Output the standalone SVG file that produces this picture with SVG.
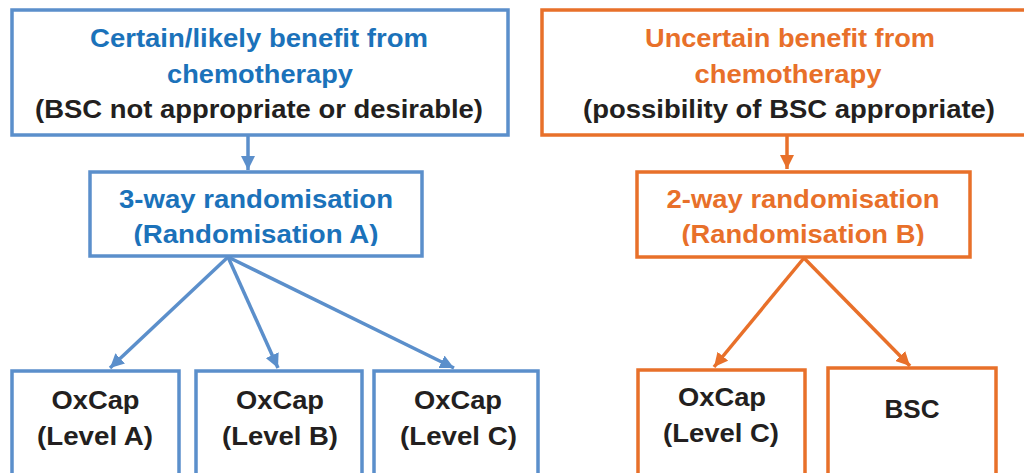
<svg xmlns="http://www.w3.org/2000/svg" width="1024" height="473" viewBox="0 0 1024 473">
<style>
  .bb { fill: #ffffff; stroke: #5B8FCB; stroke-width: 3.5; }
  .ob { fill: #ffffff; stroke: #E8702A; stroke-width: 3.5; }
  text { font-family: "Liberation Sans", Arial, sans-serif; font-weight: bold; text-anchor: middle; font-size: 26.5px; }
  .bt { fill: #1B72BA; }
  .ot { fill: #E8702A; }
  .dk { fill: #231F20; }
  .bl { stroke: #5B8FCB; stroke-width: 3.5; fill: none; }
  .ol { stroke: #E8702A; stroke-width: 3.5; fill: none; }
</style>
<defs>
  <marker id="ab" viewBox="0 0 10 10" refX="10" refY="5" markerWidth="4" markerHeight="4" orient="auto" markerUnits="strokeWidth">
    <path d="M0,0 L10,5 L0,10 z" fill="#5B8FCB"/>
  </marker>
  <marker id="ao" viewBox="0 0 10 10" refX="10" refY="5" markerWidth="4" markerHeight="4" orient="auto" markerUnits="strokeWidth">
    <path d="M0,0 L10,5 L0,10 z" fill="#E8702A"/>
  </marker>
  <clipPath id="clipA"><rect x="0" y="0" width="1024" height="246"/></clipPath>
</defs>
<rect width="1024" height="473" fill="#ffffff"/>

<g id="connectors">
  <line class="bl" x1="248" y1="136" x2="248" y2="170" marker-end="url(#ab)"/>
  <line class="bl" x1="228" y1="257" x2="110" y2="368" marker-end="url(#ab)"/>
  <line class="bl" x1="228" y1="257" x2="278" y2="368" marker-end="url(#ab)"/>
  <line class="bl" x1="228" y1="257" x2="454" y2="368" marker-end="url(#ab)"/>
  <line class="ol" x1="787" y1="136" x2="787" y2="169" marker-end="url(#ao)"/>
  <line class="ol" x1="804" y1="258" x2="714" y2="367" marker-end="url(#ao)"/>
  <line class="ol" x1="804" y1="258" x2="910" y2="366" marker-end="url(#ao)"/>
</g>

<g id="certain">
  <rect class="bb" x="12" y="10" width="496" height="125"/>
  <text class="bt" x="259" y="47" textLength="338" lengthAdjust="spacingAndGlyphs">Certain/likely benefit from</text>
  <text class="bt" x="260" y="83" textLength="186" lengthAdjust="spacingAndGlyphs">chemotherapy</text>
  <text class="dk" x="259" y="118" textLength="448" lengthAdjust="spacingAndGlyphs">(BSC not appropriate or desirable)</text>
</g>

<g id="uncertain">
  <rect class="ob" x="542" y="10" width="494" height="125"/>
  <text class="ot" x="790" y="47" textLength="290" lengthAdjust="spacingAndGlyphs">Uncertain benefit from</text>
  <text class="ot" x="788" y="83" textLength="187" lengthAdjust="spacingAndGlyphs">chemotherapy</text>
  <text class="dk" x="789" y="118" textLength="412" lengthAdjust="spacingAndGlyphs">(possibility of BSC appropriate)</text>
</g>

<g id="randA">
  <rect class="bb" x="90" y="172" width="332" height="84"/>
  <text class="bt" x="256" y="208" textLength="274" lengthAdjust="spacingAndGlyphs">3-way randomisation</text>
  <text class="bt" x="256" y="243" textLength="245" lengthAdjust="spacingAndGlyphs" clip-path="url(#clipA)">(Randomisation A)</text>
</g>

<g id="randB">
  <rect class="ob" x="637" y="172" width="333" height="85"/>
  <text class="ot" x="803" y="208" textLength="273" lengthAdjust="spacingAndGlyphs">2-way randomisation</text>
  <text class="ot" x="803" y="243" textLength="243" lengthAdjust="spacingAndGlyphs" clip-path="url(#clipA)">(Randomisation B)</text>
</g>

<g id="levelA">
  <rect class="bb" x="12" y="371" width="167" height="120"/>
  <text class="dk" x="95.5" y="409" textLength="88" lengthAdjust="spacingAndGlyphs">OxCap</text>
  <text class="dk" x="95" y="445" textLength="116" lengthAdjust="spacingAndGlyphs">(Level A)</text>
</g>

<g id="levelB">
  <rect class="bb" x="196" y="371" width="166" height="120"/>
  <text class="dk" x="280" y="409" textLength="88" lengthAdjust="spacingAndGlyphs">OxCap</text>
  <text class="dk" x="280" y="445" textLength="116" lengthAdjust="spacingAndGlyphs">(Level B)</text>
</g>

<g id="levelC">
  <rect class="bb" x="374" y="371" width="164" height="120"/>
  <text class="dk" x="458" y="409" textLength="88" lengthAdjust="spacingAndGlyphs">OxCap</text>
  <text class="dk" x="458.5" y="445" textLength="117" lengthAdjust="spacingAndGlyphs">(Level C)</text>
</g>

<g id="levelC2">
  <rect class="ob" x="638" y="370" width="167" height="120"/>
  <text class="dk" x="722" y="406" textLength="88" lengthAdjust="spacingAndGlyphs">OxCap</text>
  <text class="dk" x="721" y="442" textLength="116" lengthAdjust="spacingAndGlyphs">(Level C)</text>
</g>

<g id="bsc">
  <rect class="ob" x="828" y="368" width="168" height="120"/>
  <text class="dk" x="912" y="418" textLength="55" lengthAdjust="spacingAndGlyphs">BSC</text>
</g>
</svg>
